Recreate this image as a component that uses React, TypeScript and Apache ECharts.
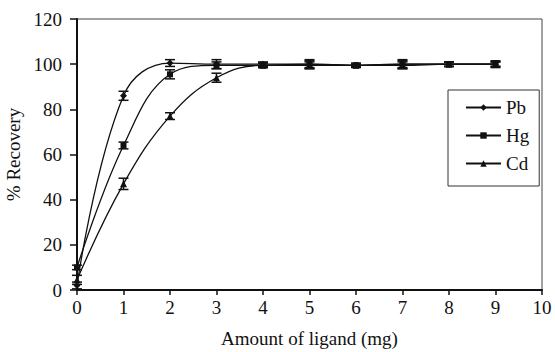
import React, { useEffect, useRef } from "react";
import * as echarts from "echarts";

const ligand = [0, 1, 2, 3, 4, 5, 6, 7, 8, 9];
const pb = [2, 86, 100.5, 100, 100, 100, 99.5, 100, 100, 100];
const hg = [10, 64, 95.5, 99.5, 99.5, 100, 99.5, 100, 100, 100];
const cd = [4.5, 47, 77, 94, 99.5, 99.5, 99.5, 99.5, 100, 100];
const pbErr = [1.5, 2, 1.5, 2, 1, 2, 1, 2, 1, 1.5];
const hgErr = [1, 1.5, 2, 1.5, 1, 1.5, 0.5, 1.5, 1, 1];
const cdErr = [2, 2.5, 1.5, 2, 1, 1.5, 0.5, 1.5, 1, 1];
const seriesNames = ["Pb", "Hg", "Cd"];

const FONT = "Liberation Serif";

function errData(vals: number[], errs: number[]) {
  return ligand.map((x, i) => [x, vals[i] - errs[i], vals[i] + errs[i]]);
}

function errSeries(vals: number[], errs: number[]) {
  return {
    type: "custom",
    silent: true,
    z: 3,
    renderItem: (params: any, api: any) => {
      const x = api.value(0);
      const lo = api.coord([x, api.value(1)]);
      const hi = api.coord([x, api.value(2)]);
      const hw = 5;
      const style = { stroke: "#111", lineWidth: 1.5 };
      return {
        type: "group",
        children: [
          { type: "line", shape: { x1: lo[0], y1: lo[1], x2: hi[0], y2: hi[1] }, style },
          { type: "line", shape: { x1: lo[0] - hw, y1: lo[1], x2: lo[0] + hw, y2: lo[1] }, style },
          { type: "line", shape: { x1: hi[0] - hw, y1: hi[1], x2: hi[0] + hw, y2: hi[1] }, style },
        ],
      };
    },
    data: errData(vals, errs),
  };
}

function lineSeries(name: string, vals: number[], symbol: string, size: number) {
  return {
    name,
    type: "line",
    smooth: 0.4,
    symbol,
    symbolSize: size,
    data: ligand.map((x, i) => [x, vals[i]]),
    lineStyle: { color: "#111", width: 1.3 },
    itemStyle: { color: "#111" },
    z: 4,
  };
}

export default function App() {
  const ref = useRef<HTMLDivElement>(null);
  useEffect(() => {
    if (!ref.current) return;
    const chart = echarts.init(ref.current, undefined, { renderer: "svg" });
    chart.setOption({
      animation: false,
      backgroundColor: "#fff",
      grid: {
        left: 77,
        top: 19,
        width: 465,
        height: 271,
        show: true,
        borderColor: "#444",
        borderWidth: 1,
        outerBoundsMode: "none",
        containLabel: false,
      },
      legend: {
        data: seriesNames,
        orient: "vertical",
        left: 448,
        top: 90,
        padding: [8, 10, 13, 17],
        itemGap: 9,
        itemWidth: 35,
        itemHeight: 8,
        borderColor: "#333",
        borderWidth: 1,
        backgroundColor: "#fff",
        textStyle: { fontFamily: FONT, fontSize: 19, color: "#111" },
      },
      xAxis: {
        type: "value",
        min: 0,
        max: 10,
        interval: 1,
        name: "Amount of ligand (mg)",
        nameLocation: "middle",
        nameGap: 39,
        nameTextStyle: { fontFamily: FONT, fontSize: 19, color: "#111" },
        axisLine: { show: true, onZero: false, lineStyle: { color: "#111", width: 2 } },
        axisTick: { show: true, inside: false, length: 5, lineStyle: { color: "#111", width: 1.5 } },
        axisLabel: { fontFamily: FONT, fontSize: 19, color: "#111", margin: 8 },
        splitLine: { show: false },
      },
      yAxis: {
        type: "value",
        min: 0,
        max: 120,
        interval: 20,
        name: "% Recovery",
        nameLocation: "middle",
        nameGap: 49,
        nameTextStyle: { fontFamily: FONT, fontSize: 19, color: "#111" },
        axisLine: { show: true, onZero: false, lineStyle: { color: "#111", width: 2 } },
        axisTick: { show: true, inside: false, length: 7, lineStyle: { color: "#111", width: 1.5 } },
        axisLabel: { fontFamily: FONT, fontSize: 19, color: "#111", margin: 15 },
        splitLine: { show: false },
      },
      series: [
        lineSeries("Pb", pb, "diamond", 7),
        lineSeries("Hg", hg, "rect", 6),
        lineSeries("Cd", cd, "triangle", 7),
        errSeries(pb, pbErr),
        errSeries(hg, hgErr),
        errSeries(cd, cdErr),
      ],
    });
    return () => chart.dispose();
  }, []);
  return <div ref={ref} style={{ width: 555, height: 352, position: "absolute", left: 0, top: 0 }} />;
}
